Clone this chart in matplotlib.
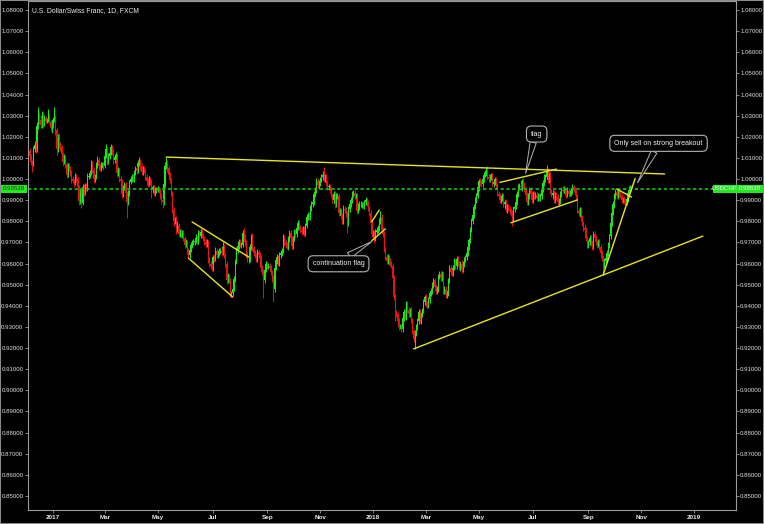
import numpy as np
import pandas as pd
import matplotlib
matplotlib.use("Agg")
import matplotlib.pyplot as plt
from matplotlib.patches import Rectangle
from matplotlib.transforms import blended_transform_factory

plt.rcParams['font.family'] = ['Liberation Sans', 'DejaVu Sans']

# USD/CHF daily (FXCM), closes in pips (1e-4), one row per trading week,
# first bar 2016-12-05, last bar 2018-10-22
first_open = 10150
closes = [
    10135, 10110, 10080, 10070, 10140,
    10160, 10140, 10250, 10300, 10280,
    10255, 10300, 10260, 10290, 10275,
    10280, 10300, 10270, 10240, 10250,
    10280, 10290, 10230, 10140, 10200,
    10160, 10150, 10120, 10080, 10100,
    10070, 10020, 10060, 10050, 10030,
    10000, 9990, 9985, 10010, 10000,
    9960, 9895, 9940, 9885, 9960,
    9940, 9970, 9955, 10010, 10015,
    10030, 10070, 10045, 10000, 10010,
    10065, 10090, 10060, 10050, 10065,
    10070, 10060, 10110, 10140, 10080,
    10110, 10125, 10150, 10130, 10090,
    10105, 10115, 10030, 10040, 10000,
    9990, 9930, 9960, 9975, 9935,
    9890, 9935, 9985, 10000, 10010,
    10000, 10030, 10050, 10040, 10075,
    10085, 10060, 10035, 10050, 10040,
    10010, 9990, 9975, 10000, 9985,
    9950, 9960, 9935, 9945, 9950,
    9955, 9945, 9920, 9900, 9890,
    9975, 10060, 10080, 10050, 10020,
    9995, 9930, 9855, 9800, 9810,
    9760, 9780, 9740, 9750, 9735,
    9745, 9720, 9690, 9700, 9660,
    9640, 9665, 9690, 9700, 9700,
    9705, 9720, 9705, 9745, 9730,
    9750, 9735, 9720, 9700, 9690,
    9700, 9620, 9600, 9590, 9580,
    9630, 9620, 9660, 9640, 9650,
    9660, 9660, 9650, 9680, 9640,
    9600, 9520, 9540, 9520, 9455,
    9460, 9480, 9525, 9610, 9660,
    9685, 9700, 9690, 9690, 9745,
    9730, 9700, 9640, 9620, 9620,
    9680, 9730, 9675, 9650, 9640,
    9620, 9655, 9640, 9630, 9580,
    9560, 9520, 9570, 9600, 9590,
    9590, 9580, 9560, 9530, 9480,
    9580, 9615, 9630, 9600, 9640,
    9650, 9660, 9720, 9700, 9690,
    9680, 9715, 9745, 9720, 9685,
    9720, 9750, 9740, 9770, 9790,
    9770, 9760, 9750, 9765, 9745,
    9780, 9820, 9830, 9820, 9860,
    9880, 9890, 9930, 9950, 9990,
    9970, 9980, 10000, 10010, 10020,
    10000, 10010, 9980, 9960, 9965,
    9950, 9920, 9900, 9930, 9880,
    9920, 9920, 9840, 9850, 9825,
    9800, 9860, 9855, 9835, 9790,
    9860, 9880, 9900, 9930, 9935,
    9920, 9920, 9850, 9870, 9880,
    9880, 9880, 9870, 9890, 9900,
    9885, 9860, 9840, 9790, 9740,
    9745, 9720, 9750, 9760, 9770,
    9800, 9820, 9760, 9740, 9665,
    9630, 9610, 9630, 9610, 9600,
    9590, 9530, 9440, 9370, 9360,
    9330, 9300, 9300, 9290, 9340,
    9370, 9350, 9410, 9380, 9360,
    9380, 9330, 9280, 9245, 9270,
    9300, 9330, 9370, 9330, 9360,
    9380, 9420, 9440, 9410, 9400,
    9430, 9460, 9470, 9500, 9520,
    9490, 9470, 9480, 9540, 9550,
    9530, 9550, 9470, 9480, 9450,
    9460, 9520, 9580, 9560, 9555,
    9580, 9610, 9590, 9620, 9600,
    9580, 9600, 9570, 9600, 9620,
    9630, 9650, 9680, 9710, 9760,
    9800, 9830, 9870, 9900, 9920,
    9960, 9990, 9980, 9975, 10000,
    10020, 10030, 10045, 10010, 10000,
    10010, 10015, 9975, 9985, 10000,
    9965, 9930, 9920, 9900, 9910,
    9920, 9880, 9890, 9855, 9870,
    9860, 9850, 9840, 9810, 9860,
    9870, 9890, 9930, 9960, 9965,
    9960, 9990, 9970, 9950, 9925,
    9890, 9920, 9950, 9930, 9900,
    9930, 9920, 9925, 9910, 9920,
    9910, 9920, 9950, 9980, 10000,
    10010, 10040, 9995, 10020, 9940,
    9925, 9935, 9900, 9925, 9915,
    9890, 9895, 9930, 9950, 9945,
    9950, 9940, 9925, 9945, 9930,
    9935, 9945, 9960, 9950, 9940,
    9915, 9850, 9840, 9855, 9815,
    9790, 9770, 9760, 9720, 9690,
    9700, 9720, 9700, 9680, 9740,
    9720, 9700, 9690, 9700, 9680,
    9650, 9625, 9590, 9610, 9625,
    9650, 9690, 9730, 9790, 9840,
    9880, 9920, 9940, 9920, 9935,
    9930, 9920, 9900, 9905, 9895,
    9890, 9905, 9935, 9950, 9960,
    9953.8,
]
# wick lengths above / below the candle body, pips (four weeks per row)
wick_up = [
    15, 12, 10, 12, 18, 20, 15, 20, 40, 15, 18, 20, 15, 12, 10, 10, 30, 12, 10, 15,
    15, 50, 12, 10, 15, 18, 15, 12, 10, 20, 15, 12, 18, 14, 10, 12, 15, 10, 20, 14,
    10, 14, 18, 12, 15, 15, 12, 10, 20, 14, 12, 20, 15, 10, 14, 15, 18, 12, 10, 15,
    10, 12, 15, 25, 12, 15, 12, 15, 12, 10, 12, 15, 10, 15, 12, 15, 12, 14, 10, 12,
    10, 15, 12, 14, 12, 15, 12, 14, 10, 15, 20, 12, 15, 10, 12, 10, 12, 15, 14, 12,
    14, 12, 10, 15, 12, 12, 10, 14, 12, 10, 15, 20, 24, 12, 10, 12, 10, 12, 15, 12,
    15, 20, 12, 14, 12, 12, 14, 12, 15, 10, 12, 15, 14, 12, 15, 15, 20, 12, 15, 12,
    12, 15, 12, 10, 14, 15, 10, 12, 14, 12, 12, 15, 20, 12, 14, 14, 12, 15, 20, 12,
    10, 12, 15, 12, 10, 12, 14, 15, 12, 18, 20, 15, 14, 12, 15, 25, 12, 10, 15, 14,
    14, 12, 15, 10, 12, 12, 15, 10, 14, 12, 14, 12, 15, 12, 14, 12, 14, 12, 10, 14,
    15, 12, 14, 12, 15, 12, 15, 18, 14, 12, 14, 15, 12, 15, 12, 12, 14, 15, 12, 14,
    14, 12, 15, 14, 12, 12, 15, 14, 12, 15, 15, 12, 14, 12, 15, 14, 15, 12, 14, 18,
    35, 14, 12, 15, 12, 12, 14, 12, 15, 14, 14, 12, 15, 12, 14, 12, 15, 14, 12, 14,
    14, 12, 15, 14, 15, 12, 14, 12, 15, 14, 14, 12, 15, 12, 14, 12, 14, 12, 15, 14,
    14, 12, 15, 14, 12, 15, 30, 14, 12, 15, 12, 15, 14, 12, 14, 14, 12, 15, 14, 12,
    12, 14, 12, 15, 14, 15, 14, 12, 15, 14, 12, 15, 14, 12, 15, 14, 12, 15, 14, 12,
    12, 14, 12, 15, 14, 14, 12, 15, 14, 12, 12, 15, 14, 12, 15, 15, 14, 12, 15, 14,
    14, 12, 15, 14, 12, 12, 14, 12, 15, 14, 14, 12, 15, 14, 12, 12, 15, 14, 12, 15,
    15, 14, 12, 15, 14, 14, 12, 15, 14, 12, 12, 14, 12, 15, 14, 14, 12, 15, 14, 12,
    12, 15, 14, 12, 15, 15, 14, 12, 15, 14, 14, 12, 15, 14, 12, 12, 14, 12, 15, 14,
    14, 12, 15, 14, 12, 12, 15, 14, 12, 15, 15, 14, 12, 15, 14, 14, 12, 15, 14, 25,
    12, 26, 14, 12, 15, 14, 12, 15, 14, 12, 12, 15, 14, 12, 15, 15, 14, 12, 15, 14,
    14, 12, 15, 14, 12, 12, 14, 12, 15, 14, 14, 12, 15, 14, 12, 12, 15, 14, 12, 15,
    15, 14, 12, 15, 14, 14, 12, 15, 14, 12, 12, 14, 12, 15, 14, 14, 12, 15, 14, 12,
    12, 15, 14, 12, 15, 15, 14, 12, 15, 14,
    12,
]
wick_dn = [
    10, 14, 12, 35, 10, 12, 18, 10, 15, 20, 15, 12, 18, 10, 12, 8, 12, 10, 15, 20,
    10, 12, 20, 25, 12, 12, 15, 18, 20, 10, 20, 15, 10, 12, 15, 18, 10, 25, 12, 15,
    15, 20, 12, 23, 10, 18, 15, 12, 10, 12, 10, 12, 15, 18, 15, 10, 12, 15, 12, 10,
    12, 15, 10, 12, 15, 10, 15, 12, 15, 18, 15, 10, 20, 15, 12, 12, 20, 15, 12, 18,
    75, 12, 15, 10, 12, 12, 15, 10, 14, 12, 12, 15, 18, 14, 10, 15, 18, 12, 10, 14,
    40, 15, 12, 14, 10, 10, 12, 15, 20, 28, 12, 15, 12, 18, 15, 15, 12, 18, 20, 15,
    18, 12, 15, 12, 14, 15, 12, 18, 12, 15, 14, 12, 10, 15, 12, 12, 10, 15, 12, 14,
    10, 12, 15, 14, 12, 12, 15, 14, 18, 15, 15, 12, 10, 14, 12, 12, 15, 12, 10, 14,
    15, 18, 12, 14, 15, 15, 12, 10, 14, 12, 12, 15, 12, 14, 10, 12, 15, 12, 14, 18,
    12, 15, 14, 12, 15, 14, 12, 15, 12, 18, 15, 85, 14, 12, 15, 15, 12, 15, 18, 60,
    14, 12, 15, 12, 10, 12, 14, 12, 15, 14, 12, 14, 15, 12, 15, 15, 12, 14, 15, 12,
    12, 15, 14, 12, 15, 14, 12, 15, 14, 12, 12, 14, 12, 15, 14, 12, 15, 14, 12, 15,
    14, 12, 15, 14, 12, 15, 12, 14, 12, 15, 12, 15, 14, 12, 15, 14, 12, 15, 14, 45,
    12, 14, 12, 15, 14, 15, 12, 14, 12, 15, 12, 15, 14, 12, 15, 14, 12, 15, 14, 12,
    12, 25, 14, 12, 15, 14, 12, 15, 14, 12, 15, 12, 14, 15, 12, 12, 15, 14, 40, 12,
    30, 15, 12, 14, 12, 14, 12, 15, 14, 12, 14, 12, 15, 14, 50, 12, 15, 14, 12, 15,
    15, 12, 14, 15, 12, 12, 15, 14, 12, 15, 14, 12, 15, 14, 12, 12, 14, 15, 12, 14,
    12, 15, 14, 12, 15, 15, 12, 14, 15, 12, 12, 15, 14, 12, 15, 14, 12, 15, 14, 12,
    12, 14, 15, 12, 14, 12, 15, 14, 12, 15, 15, 12, 14, 15, 12, 12, 15, 14, 12, 15,
    14, 12, 15, 14, 12, 12, 14, 15, 12, 14, 12, 15, 14, 30, 15, 15, 12, 14, 15, 12,
    12, 15, 14, 12, 15, 14, 12, 15, 14, 12, 12, 14, 15, 12, 14, 12, 15, 14, 12, 15,
    15, 12, 14, 15, 12, 12, 15, 14, 12, 15, 14, 12, 15, 14, 12, 12, 14, 15, 12, 14,
    12, 15, 14, 12, 15, 15, 12, 14, 15, 12, 12, 15, 14, 12, 15, 14, 12, 15, 14, 12,
    12, 14, 15, 12, 14, 12, 15, 40, 12, 15, 15, 12, 14, 15, 12, 12, 15, 14, 12, 15,
    14, 12, 15, 14, 12, 12, 14, 15, 12, 14,
    10,
]
last_price = 0.99538
symbol = 'USDCHF'
title = 'U.S. Dollar/Swiss Franc, 1D, FXCM'

tick_dates = ['2017-01-02', '2017-03-01', '2017-05-01', '2017-07-03', '2017-09-01', '2017-11-01',
              '2018-01-01', '2018-03-01', '2018-05-01', '2018-07-02', '2018-09-03', '2018-11-01',
              '2019-01-01']
tick_labels = ['2017', 'Mar', 'May', 'Jul', 'Sep', 'Nov', '2018', 'Mar', 'May', 'Jul', 'Sep', 'Nov', '2019']
price_ticks = np.round(np.arange(0.85, 1.0801, 0.01), 2)

# drawn trend lines: (date, price) -> (date, price)
trendlines = [
    ('2017-05-10', 1.0104, '2018-11-28', 1.0024),
    ('2017-06-08', 0.9797, '2017-08-11', 0.9631),
    ('2017-06-05', 0.9626, '2017-07-25', 0.9442),
    ('2017-12-29', 0.9798, '2018-01-08', 0.9853),
    ('2017-12-29', 0.9708, '2018-01-15', 0.9764),
    ('2018-02-15', 0.9196, '2019-01-10', 0.9730),
    ('2018-05-24', 0.9984, '2018-07-27', 1.0047),
    ('2018-06-06', 0.9793, '2018-08-21', 0.9901),
    ('2018-09-19', 0.9546, '2018-10-25', 1.0003),
    ('2018-10-04', 0.9953, '2018-10-22', 0.9915),
]
# callouts: text, box centre (date, price), pointer tip (date, price)
callouts = [
    ('flag', '2018-07-05', 1.0213, '2018-06-22', 1.0027),
    ('Only sell on strong breakout', '2018-11-21', 1.0169, '2018-10-29', 0.9983),
    ('continuation flag', '2017-11-22', 0.9599, '2017-12-29', 0.9704),
]
callout_anchor = [(0.3, 0.0), (0.48, 0.0), (0.55, 1.0)]

assert len(closes) == len(wick_up) == len(wick_dn)

bdays = pd.bdate_range('2016-12-05', '2019-03-29')


def bx(d):
    return bdays.searchsorted(pd.Timestamp(d))


c = np.array(closes, float) / 1e4
o = np.r_[first_open / 1e4, c[:-1]]
hi = np.maximum(o, c) + np.array(wick_up) / 1e4
lo = np.minimum(o, c) - np.array(wick_dn) / 1e4
x = np.arange(len(c))
col = np.where(c >= o, '#1ee81e', '#f01212')

fig = plt.figure(figsize=(7.64, 5.24), dpi=100, facecolor='black')
ax = fig.add_axes([27.7 / 764, 14 / 524, 708 / 764, 509 / 524], facecolor='black')

ax.vlines(x, lo, hi, colors=col, lw=0.7)
ax.bar(x, np.maximum(np.abs(c - o), 0.00008), bottom=np.minimum(o, c),
       width=0.9, color=col, linewidth=0)

ax.axhline(last_price, color='#16c416', lw=1.2, ls=(0, (2, 1.5)))

for d1, p1, d2, p2 in trendlines:
    ax.plot([bx(d1), bx(d2)], [p1, p2], color='#e6e61e', lw=1.0, solid_capstyle='round')

for (txt, dt, pt, dtip, ptip), rp in zip(callouts, callout_anchor):
    ax.annotate(txt, xy=(bx(dtip), ptip), xytext=(bx(dt), pt),
                ha='center', va='center', color='#f4f4f4', fontsize=5.0,
                bbox=dict(boxstyle='round,pad=0.65,rounding_size=0.7', fc='black', ec='#b4b4b4', lw=0.8),
                arrowprops=dict(arrowstyle='wedge,tail_width=0.5', mutation_scale=9,
                                fc='black', ec='#b4b4b4', lw=0.7,
                                shrinkA=0, shrinkB=0, relpos=rp))

ax.set_xlim(-0.56, 574.7)
ax.set_ylim(0.84337, 1.08426)

ax.set_yticks(price_ticks)
ax.set_yticklabels([f'{v:.5f}' for v in price_ticks])
ax.tick_params(axis='y', left=True, right=True, labelleft=True, labelright=True,
               direction='out', length=2.2, width=0.6, color='#9a9a9a',
               labelsize=4.4, labelcolor='#e2e2e2', pad=1)
ax.set_xticks([bx(d) for d in tick_dates])
ax.set_xticklabels(tick_labels, fontweight='bold')
ax.tick_params(axis='x', direction='out', length=2.2, width=0.6, color='#9a9a9a',
               labelsize=4.6, labelcolor='#ececec', pad=1.5)
for s in ax.spines.values():
    s.set_color('#9a9a9a')
    s.set_linewidth(0.8)

ax.text(0.006, 0.982, title, transform=ax.transAxes, color='#f0f0f0',
        fontsize=4.9, ha='left', va='center')

# last price markers on both sides
tr = blended_transform_factory(fig.transFigure, ax.transData)
hh = 0.0019
for x0, x1, label, tc in [(0.5, 27.2, f'{last_price:.5f}', '#0a3a0a'),
                          (712.7, 735.5, symbol, '#f0fff0'),
                          (736.2, 763.2, f'{last_price:.5f}', '#f0fff0')]:
    fig.add_artist(Rectangle((x0 / 764, last_price - hh), (x1 - x0) / 764, 2 * hh,
                             transform=tr, fc='#22e822', ec='none'))
    fig.text((x0 + x1) / 2 / 764, last_price, label, transform=tr, ha='center', va='center',
             fontsize=4.4, color=tc)

fig.add_artist(Rectangle((0, 0), 1, 1, transform=fig.transFigure, fill=False,
                         ec='#8a8a8a', lw=1.5))

fig.savefig('out.png', dpi=100, facecolor='black')
